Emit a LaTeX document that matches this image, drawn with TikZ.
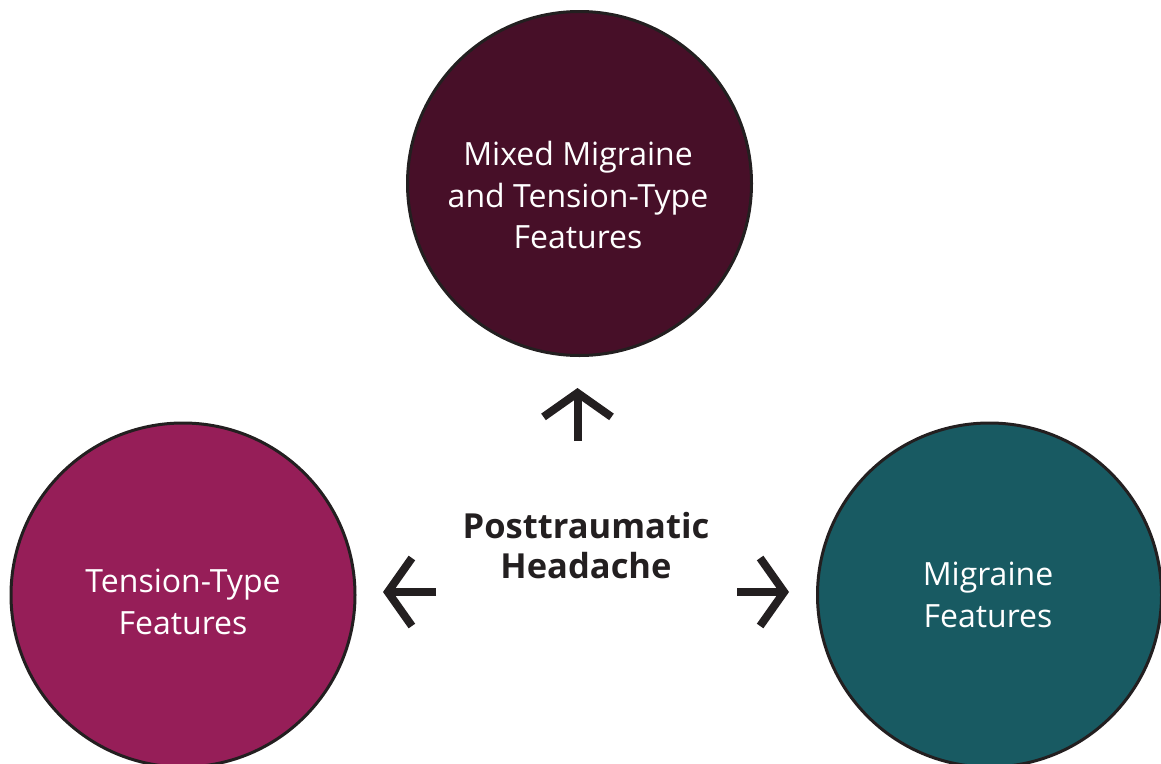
\documentclass[tikz,border=0pt]{standalone}
\usepackage{fontspec}
\setmainfont{Open Sans}
\usetikzlibrary{arrows.meta}
\definecolor{plum}{HTML}{470F28}
\definecolor{berry}{HTML}{961E58}
\definecolor{deepteal}{HTML}{185A62}
\definecolor{ink}{HTML}{231F20}
\begin{document}
\begin{tikzpicture}[x=1pt,y=-1pt,
  bubble/.style={circle, draw=ink, line width=3pt, minimum size=344pt, inner sep=0pt},
  caption/.style={text=white, align=center, inner sep=0pt, font=\fontsize{32}{41.5}\selectfont},
  hub/.style={text=ink, align=center, inner sep=0pt, font=\bfseries\fontsize{34.5}{40}\selectfont},
  pointer/.style={draw=ink, line width=8pt, -{Straight Barb[length=24pt, width=68pt]}}]
  \useasboundingbox (0,0) rectangle (1161,763);

  % the three headache categories
  \node[bubble, fill=plum]     (mixed)    at (579.5,183.5) {};
  \node[bubble, fill=berry]    (tension)  at (183,595) {};
  \node[bubble, fill=deepteal] (migraine) at (989.5,595) {};

  \node[caption] (mixedTxt)    at (578,195) {Mixed Migraine\\and Tension-Type\\Features};
  \node[caption] (tensionTxt)  at (183,602) {Tension-Type\\Features};
  \node[caption] (migraineTxt) at (988,595) {Migraine\\Features};

  % central label
  \node[hub] (pth) at (586,546) {Posttraumatic\\Headache};

  % arrows pointing out to each category
  \coordinate (upTail)    at (577.5,441);
  \coordinate (upTip)     at (577.5,388);
  \coordinate (leftTail)  at (436,592);
  \coordinate (leftTip)   at (383,592);
  \coordinate (rightTail) at (737,592);
  \coordinate (rightTip)  at (789,592);
  \draw[pointer] (upTail) -- (upTip);
  \draw[pointer] (leftTail) -- (leftTip);
  \draw[pointer] (rightTail) -- (rightTip);
\end{tikzpicture}
\end{document}
